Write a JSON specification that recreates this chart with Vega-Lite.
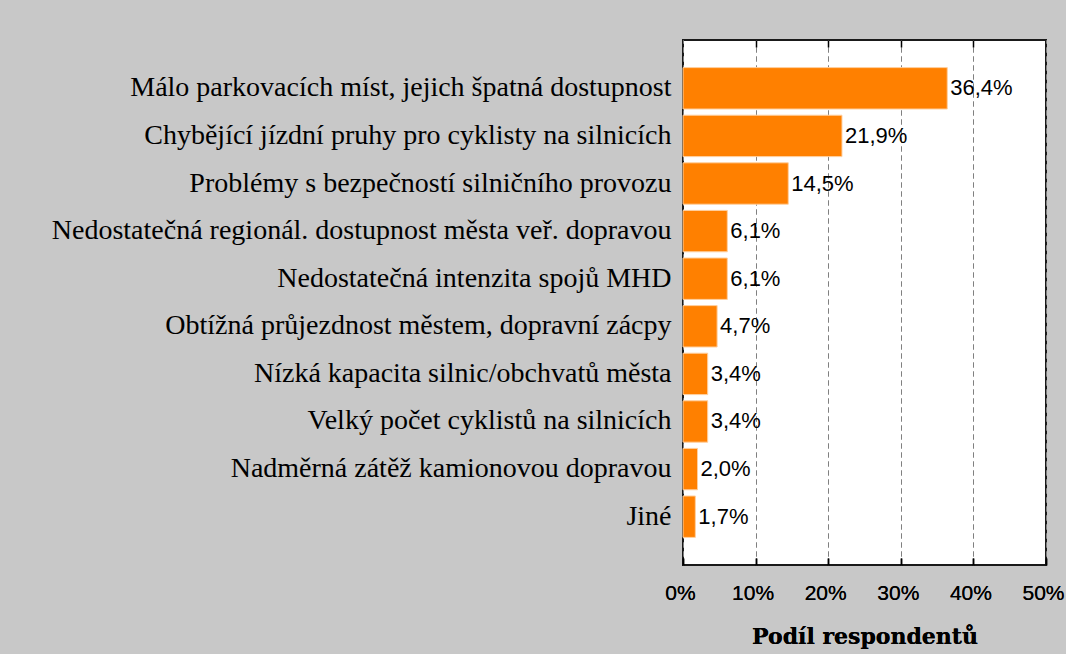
{
  "$schema": "https://vega.github.io/schema/vega-lite/v6.json",
  "autosize": {"type": "none"},
  "padding": {"left": 683, "top": 40, "right": 20, "bottom": 89},
  "width": 363,
  "height": 525,
  "background": "#c8c8c8",
  "data": {
    "values": [
      {"kategorie": "Málo parkovacích míst, jejich špatná dostupnost", "podil": 36.4, "popisek": "36,4%"},
      {"kategorie": "Chybějící jízdní pruhy pro cyklisty na silnicích", "podil": 21.9, "popisek": "21,9%"},
      {"kategorie": "Problémy s bezpečností silničního provozu", "podil": 14.5, "popisek": "14,5%"},
      {"kategorie": "Nedostatečná regionál. dostupnost města veř. dopravou", "podil": 6.1, "popisek": "6,1%"},
      {"kategorie": "Nedostatečná intenzita spojů MHD", "podil": 6.1, "popisek": "6,1%"},
      {"kategorie": "Obtížná průjezdnost městem, dopravní zácpy", "podil": 4.7, "popisek": "4,7%"},
      {"kategorie": "Nízká kapacita silnic/obchvatů města", "podil": 3.4, "popisek": "3,4%"},
      {"kategorie": "Velký počet cyklistů na silnicích", "podil": 3.4, "popisek": "3,4%"},
      {"kategorie": "Nadměrná zátěž kamionovou dopravou", "podil": 2.0, "popisek": "2,0%"},
      {"kategorie": "Jiné", "podil": 1.7, "popisek": "1,7%"}
    ]
  },
  "encoding": {
    "y": {
      "field": "kategorie",
      "type": "nominal",
      "sort": null,
      "scale": {"paddingInner": 0.13, "paddingOuter": 0.58},
      "axis": {
        "title": null,
        "orient": "left",
        "offset": -8,
        "tickSize": 8,
        "tickColor": "#000000",
        "tickWidth": 1.5,
        "domain": false,
        "labelFont": "Liberation Serif",
        "labelFontSize": 28,
        "labelColor": "#000000",
        "labelPadding": 12,
        "labelLimit": 900
      }
    },
    "x": {
      "field": "podil",
      "type": "quantitative",
      "scale": {"domain": [0, 50], "nice": false},
      "axis": {
        "title": "Podíl respondentů",
        "titleFont": "DejaVu Serif",
        "titleFontWeight": "bold",
        "titleFontSize": 22,
        "titleColor": "#000000",
        "titlePadding": 23,
        "orient": "bottom",
        "offset": -7,
        "tickSize": 7,
        "tickColor": "#000000",
        "tickWidth": 1.5,
        "domain": false,
        "values": [0, 10, 20, 30, 40, 50],
        "labelExpr": "datum.value + '%'",
        "labelFont": "Liberation Sans",
        "labelFontSize": 21,
        "labelOffset": -3,
        "labelColor": "#000000",
        "labelPadding": 17,
        "labelFlush": false,
        "labelOverlap": false,
        "grid": true,
        "gridColor": "#808080",
        "gridDash": [5, 4],
        "gridWidth": 1
      }
    }
  },
  "layer": [
    {
      "mark": {"type": "bar", "color": "#ff8000", "stroke": "#ffd0a0", "strokeWidth": 1}
    },
    {
      "mark": {"type": "text", "align": "left", "baseline": "middle", "dx": 3, "font": "Liberation Sans", "fontSize": 22, "color": "#000000"},
      "encoding": {"text": {"field": "popisek"}}
    },
    {
      "mark": {"type": "rule", "opacity": 0},
      "encoding": {
        "x": {
          "field": "podil",
          "type": "quantitative",
          "axis": {
            "orient": "top",
            "title": null,
            "offset": -7,
            "tickSize": 7,
            "tickColor": "#000000",
            "tickWidth": 1.5,
            "domain": false,
            "labels": false,
            "grid": false,
            "values": [10, 20, 30, 40]
          }
        },
        "x2": {"datum": 0}
      }
    }
  ],
  "resolve": {"axis": {"x": "independent"}},
  "config": {
    "view": {"fill": "#ffffff", "stroke": "#1a1a1a", "strokeWidth": 2}
  }
}
